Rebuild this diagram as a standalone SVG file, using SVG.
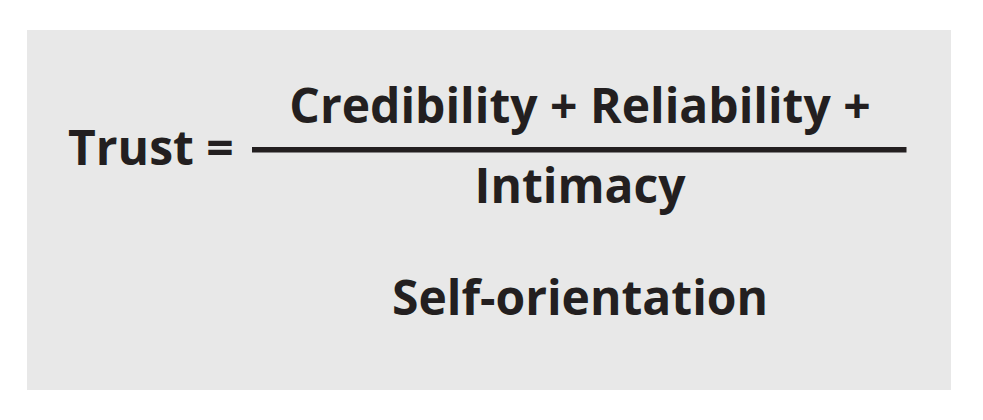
<svg xmlns="http://www.w3.org/2000/svg" width="983" height="420" viewBox="0 0 983 420">
<style>
.t{font-family:"Open Sans","Noto Sans","Liberation Sans",sans-serif;font-weight:700;font-size:48px;fill:#231f20}
.c{text-anchor:middle}
</style>
<rect x="0" y="0" width="983" height="420" fill="#ffffff"/>
<g id="panel"><rect x="27" y="30" width="924" height="360" fill="#e8e8e8"/></g>
<g id="lhs"><text class="t" x="68" y="165">Trust =</text></g>
<g id="numerator"><text class="t c" x="580" y="123">Credibility + Reliability +</text>
<text class="t c" x="580" y="203">Intimacy</text></g>
<g id="connectors"><rect x="252" y="147" width="654.5" height="5.5" fill="#231f20"/></g>
<g id="denominator"><text class="t c" x="580" y="315">Self-orientation</text></g>
</svg>
